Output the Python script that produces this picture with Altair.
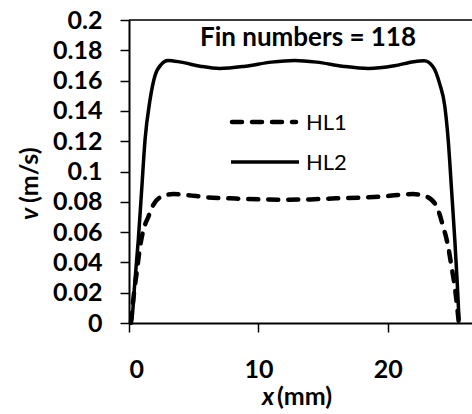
import altair as alt
import pandas as pd

# HL2 (solid)
hl2_x = [0.1, 0.21, 0.46, 0.72, 0.98, 1.24, 1.62, 2.0, 2.53, 3.0, 4.0, 5.5, 7.0, 9.0, 11.0, 12.8,
         14.5, 16.5, 18.5, 20.5, 22.0, 22.8, 23.5, 24.0, 24.4, 24.66, 24.92, 25.17, 25.35, 25.5]
hl2_v = [0.0, 0.002, 0.028, 0.055, 0.088, 0.121, 0.147, 0.163, 0.171, 0.1733, 0.1722, 0.1695, 0.168,
         0.1695, 0.1722, 0.1733, 0.1722, 0.1695, 0.168, 0.1698, 0.1725, 0.1731, 0.169, 0.158, 0.143,
         0.121, 0.088, 0.055, 0.028, 0.002]

# HL1 (dashed)
hl1_x = [0.15, 0.39, 0.59, 0.85, 1.1, 1.49, 1.88, 2.53, 3.42, 4.46, 6.0, 7.8, 10.0, 12.2, 14.0, 16.0,
         18.0, 19.4, 20.8, 21.95, 22.99, 23.76, 24.27, 24.66, 24.92, 25.17, 25.35, 25.48]
hl1_v = [0.0, 0.02, 0.033, 0.05, 0.061, 0.070, 0.078, 0.0834, 0.0851, 0.0845, 0.083, 0.0823, 0.0816,
         0.0814, 0.0816, 0.0823, 0.0828, 0.0834, 0.0845, 0.0851, 0.0834, 0.077, 0.0637, 0.0504, 0.037,
         0.024, 0.011, 0.0]

y_ticks = [0, 0.02, 0.04, 0.06, 0.08, 0.1, 0.12, 0.14, 0.16, 0.18, 0.2]
x_ticks = [0, 10, 20]
x_max = 26.5
title_text = "Fin numbers = 118"
series_names = ["HL1", "HL2"]

FONT = "Lato"

df1 = pd.DataFrame({"x": hl1_x, "v": hl1_v, "s": series_names[0]})
df2 = pd.DataFrame({"x": hl2_x, "v": hl2_v, "s": series_names[1]})
one = pd.DataFrame({"a": [0]})

xscale = alt.Scale(domain=[0, x_max], nice=False, zero=False)
yscale = alt.Scale(domain=[0, 0.2], nice=False)

xaxis = alt.Axis(values=x_ticks, title=None, grid=False, labelOverlap=False)
yaxis = alt.Axis(values=y_ticks, title=None, grid=False, labelOverlap=False, labelFlush=False,
                 labelExpr="datum.value == 0 ? '0' : format(datum.value, '.2~f')")

line1 = alt.Chart(df1).mark_line(color="black", strokeWidth=4.5, strokeDash=[10, 10],
                                 strokeCap="round", interpolate="monotone").encode(
    x=alt.X("x:Q", scale=xscale, axis=xaxis),
    y=alt.Y("v:Q", scale=yscale, axis=yaxis),
)
line2 = alt.Chart(df2).mark_line(color="black", strokeWidth=3.5, interpolate="monotone").encode(
    x=alt.X("x:Q", scale=xscale, axis=xaxis),
    y=alt.Y("v:Q", scale=yscale, axis=yaxis),
)

top_border = alt.Chart(pd.DataFrame({"x": [0], "x1": [x_max], "v": [0.2]})).mark_rule(
    color="black", strokeWidth=1.5).encode(
    x=alt.X("x:Q", scale=xscale, axis=xaxis), x2="x1:Q",
    y=alt.Y("v:Q", scale=yscale, axis=yaxis))

title = alt.Chart(one).mark_text(text=title_text, font=FONT, fontSize=26, fontWeight="bold",
                                 color="black", align="center", baseline="alphabetic").encode(
    x=alt.value(179), y=alt.value(26))

leg1_line = alt.Chart(one).mark_rule(color="black", strokeWidth=4.5, strokeDash=[10, 10],
                                     strokeCap="round").encode(
    x=alt.value(103), x2=alt.value(167), y=alt.value(102))
leg2_line = alt.Chart(one).mark_rule(color="black", strokeWidth=3.5).encode(
    x=alt.value(102), x2=alt.value(170), y=alt.value(142))
leg1_text = alt.Chart(one).mark_text(text=series_names[0], font=FONT, fontSize=22, color="black",
                                     align="left", baseline="middle").encode(
    x=alt.value(177), y=alt.value(103))
leg2_text = alt.Chart(one).mark_text(text=series_names[1], font=FONT, fontSize=22, color="black",
                                     align="left", baseline="middle").encode(
    x=alt.value(177), y=alt.value(143))

xt1 = alt.Chart(one).mark_text(text="x", font=FONT, fontSize=25, fontWeight="bold",
                               fontStyle="italic", color="black", align="left",
                               baseline="alphabetic").encode(x=alt.value(133), y=alt.value(385))
xt2 = alt.Chart(one).mark_text(text="(mm)", font=FONT, fontSize=25, fontWeight="bold",
                               color="black", align="left",
                               baseline="alphabetic").encode(x=alt.value(148), y=alt.value(385))
yt1 = alt.Chart(one).mark_text(text="v", font=FONT, fontSize=25, fontWeight="bold",
                               fontStyle="italic", color="black", align="left", angle=270,
                               baseline="middle").encode(x=alt.value(-99), y=alt.value(200))
yt2 = alt.Chart(one).mark_text(text="(m/s)", font=FONT, fontSize=25, fontWeight="bold",
                               color="black", align="left", angle=270,
                               baseline="middle").encode(x=alt.value(-99), y=alt.value(183))

chart = alt.layer(top_border, line1, line2, title, leg1_line, leg2_line, leg1_text, leg2_text,
                  xt1, xt2, yt1, yt2).properties(
    width=343, height=303,
    padding={"left": 129, "top": 20, "right": 0, "bottom": 91},
    autosize=alt.AutoSizeParams(type="none"),
).configure_view(stroke=None).configure(background="white").configure_axis(
    labelFont=FONT, labelFontSize=25, labelFontWeight="bold", labelColor="black",
    tickSize=9, tickColor="black", tickWidth=1.5, domainColor="black", domainWidth=2,
).configure_axisX(labelPadding=25).configure_axisY(labelPadding=18)

chart.save("out.html", embed_options={"renderer": "svg", "actions": False})
